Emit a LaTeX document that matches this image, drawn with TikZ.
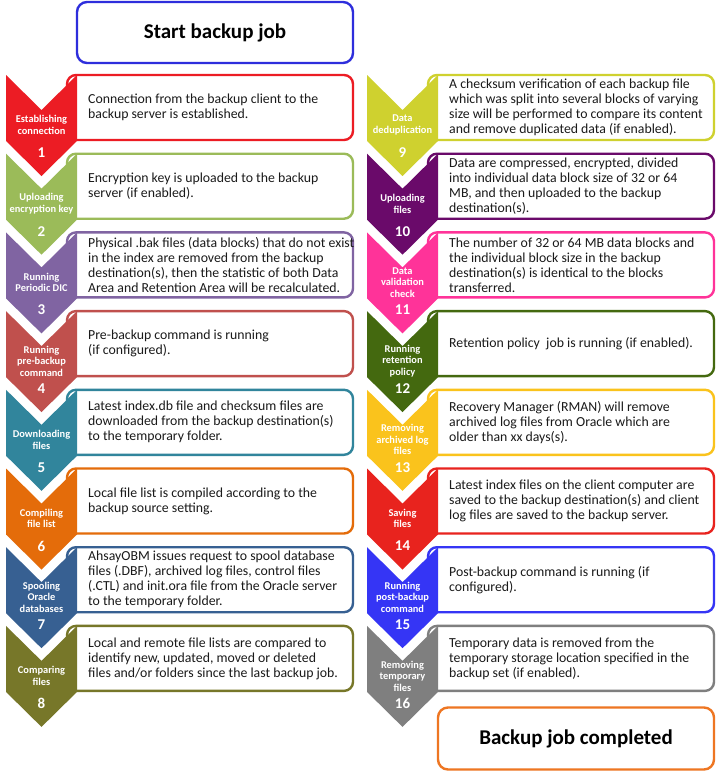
\documentclass[tikz,border=0pt]{standalone}
\usepackage{fontspec}
\setmainfont{Carlito}
\definecolor{c1}{HTML}{EC1C24}
\definecolor{c2}{HTML}{9BBB59}
\definecolor{c3}{HTML}{8064A2}
\definecolor{c4}{HTML}{C0504D}
\definecolor{c5}{HTML}{31859C}
\definecolor{c6}{HTML}{E46C0A}
\definecolor{c7}{HTML}{376092}
\definecolor{c8}{HTML}{777729}
\definecolor{c9}{HTML}{CFD12F}
\definecolor{c10}{HTML}{6A0A6A}
\definecolor{c11}{HTML}{FF3399}
\definecolor{c12}{HTML}{44690F}
\definecolor{c13}{HTML}{FAC31C}
\definecolor{c14}{HTML}{E8231E}
\definecolor{c15}{HTML}{3535F5}
\definecolor{c16}{HTML}{7F7F7F}
\definecolor{startblue}{HTML}{2E2EDC}
\definecolor{endorange}{HTML}{EE7622}
\definecolor{bodytext}{HTML}{1A1A1A}
\tikzset{
  boxline/.style={line width=2.4pt, rounded corners=9pt, fill=white},
  lab/.style={text=white, align=center, font=\bfseries\fontsize{10.4}{11.5}\selectfont, inner sep=0pt},
  num/.style={text=white, font=\bfseries\fontsize{15}{15}\selectfont, inner sep=0pt},
  txt/.style={text=bodytext, align=left, font=\fontsize{13.8}{15}\selectfont, inner sep=0pt},
  endbox/.style={line width=2.4pt, rounded corners=10pt, minimum width=276pt, font=\bfseries\fontsize{21}{24}\selectfont, text=black}
}
\newcommand{\bkrow}[7]{%
  \pgfmathsetmacro{\rT}{75+#3*78.7}%
  \pgfmathsetmacro{\rX}{6+#2*361}%
  \pgfmathsetmacro{\rR}{\rX+71}%
  \pgfmathsetmacro{\rC}{\rX+35.5}%
  \pgfmathsetmacro{\rB}{\rT+65}%
  \draw[boxline, draw=#4] (\rR-10,\rT) rectangle (\rR+276,\rB);
  \fill[#4] (\rX,\rT) -- (\rC,\rT+35) -- (\rR,\rT) -- (\rR,\rT+66) -- (\rC,\rT+101) -- (\rX,\rT+66) -- cycle;
  \node[lab] (#1l) at (\rC,\rT+50) {#5};
  \node[num] (#1n) at (\rC,\rT+77.5) {#6};
  \node[txt, anchor=west] (#1t) at (\rR+11,\rT+32.5) {#7};
}
\begin{document}
\begin{tikzpicture}[x=1pt,y=-1pt]
\useasboundingbox (0,0) rectangle (720,771);
\fill[white] (0,0) rectangle (720,771);
\node[endbox, draw=startblue, minimum height=61pt] (start) at (215,32.5) {Start backup job};
\bkrow{s1}{0}{0}{c1}{Establishing\\connection}{1}{Connection from the backup client to the\\backup server is established.}
\bkrow{s2}{0}{1}{c2}{Uploading\\encryption key}{2}{Encryption key is uploaded to the backup\\server (if enabled).}
\bkrow{s3}{0}{2}{c3}{Running\\Periodic DIC}{3}{Physical .bak files (data blocks) that do not exist\\in the index are removed from the backup\\destination(s), then the statistic of both Data\\Area and Retention Area will be recalculated.}
\bkrow{s4}{0}{3}{c4}{Running\\pre-backup\\command}{4}{Pre-backup command is running\\(if configured).}
\bkrow{s5}{0}{4}{c5}{Downloading\\files}{5}{Latest index.db file and checksum files are\\downloaded from the backup destination(s)\\to the temporary folder.}
\bkrow{s6}{0}{5}{c6}{Compiling\\file list}{6}{Local file list is compiled according to the\\backup source setting.}
\bkrow{s7}{0}{6}{c7}{Spooling\\Oracle\\databases}{7}{AhsayOBM issues request to spool database\\files (.DBF), archived log files, control files\\(.CTL) and init.ora file from the Oracle server\\to the temporary folder.}
\bkrow{s8}{0}{7}{c8}{Comparing\\files}{8}{Local and remote file lists are compared to\\identify new, updated, moved or deleted\\files and/or folders since the last backup job.}
\bkrow{s9}{1}{0}{c9}{Data\\deduplication}{9}{A checksum verification of each backup file\\which was split into several blocks of varying\\size will be performed to compare its content\\and remove duplicated data (if enabled).}
\bkrow{s10}{1}{1}{c10}{Uploading\\files}{10}{Data are compressed, encrypted, divided\\into individual data block size of 32 or 64\\MB, and then uploaded to the backup\\destination(s).}
\bkrow{s11}{1}{2}{c11}{Data\\validation\\check}{11}{The number of 32 or 64 MB data blocks and\\the individual block size in the backup\\destination(s) is identical to the blocks\\transferred.}
\bkrow{s12}{1}{3}{c12}{Running\\retention\\policy}{12}{Retention policy\ \ job is running (if enabled).}
\bkrow{s13}{1}{4}{c13}{Removing\\archived log\\files}{13}{Recovery Manager (RMAN) will remove\\archived log files from Oracle which are\\older than xx days(s).}
\bkrow{s14}{1}{5}{c14}{Saving\\files}{14}{Latest index files on the client computer are\\saved to the backup destination(s) and client\\log files are saved to the backup server.}
\bkrow{s15}{1}{6}{c15}{Running\\post-backup\\command}{15}{Post-backup command is running (if\\configured).}
\bkrow{s16}{1}{7}{c16}{Removing\\temporary\\files}{16}{Temporary data is removed from the\\temporary storage location specified in the\\backup set (if enabled).}
\node[endbox, draw=endorange, minimum height=62pt] (end) at (576,738.5) {Backup job completed};
\end{tikzpicture}
\end{document}
